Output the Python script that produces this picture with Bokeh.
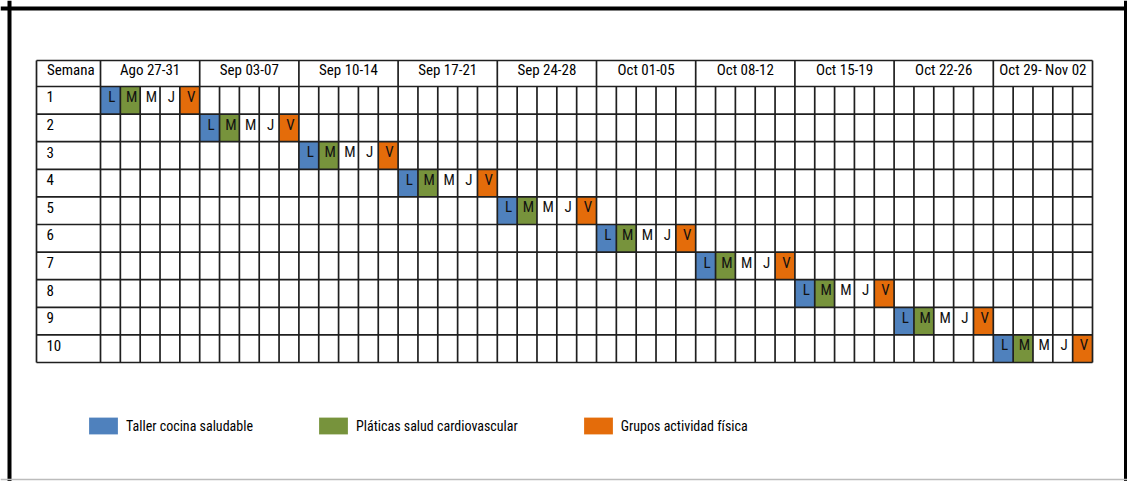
from bokeh.plotting import figure
from bokeh.models import Range1d, Legend, LegendItem, ColumnDataSource, Span
from bokeh.core.properties import value
from bokeh.embed import file_html
from bokeh.resources import INLINE

# ---------------- data ----------------
semanas = ["1", "2", "3", "4", "5", "6", "7", "8", "9", "10"]
week_labels = ["Ago 27-31", "Sep 03-07", "Sep 10-14", "Sep 17-21", "Sep 24-28",
               "Oct 01-05", "Oct 08-12", "Oct 15-19", "Oct 22-26", "Oct 29- Nov 02"]
day_letters = ["L", "M", "M", "J", "V"]
semana_week = [0, 1, 2, 3, 4, 5, 6, 7, 8, 9]          # calendar week of each semana
activities = ["Taller cocina saludable", "Pláticas salud cardiovascular", "Grupos actividad física"]
activity_day = [0, 1, 4]                               # day (L, M, V) of each activity
activity_colors = ["#4F81BD", "#77933C", "#E46C0A"]

FONT = "'Liberation Sans Narrow', 'Arial Narrow', 'Roboto Condensed', 'Liberation Sans', sans-serif"

# ---------------- layout ----------------
W, H = 1127, 481
n_days = len(week_labels) * len(day_letters)
n_rows = len(semanas)
px_day = 992 / n_days
px_row = 27.6
origin_cx, origin_cy = 100, 86
x_start = -origin_cx / px_day
x_end = x_start + W / px_day
y_top = -origin_cy / px_row
y_bot = y_top + H / px_row
header_h = 26 / px_row
label_w = 64 / px_day

p = figure(width=W, height=H, x_range=Range1d(x_start, x_end), y_range=Range1d(y_bot, y_top),
           output_backend="svg", toolbar_location=None, min_border=0,
           x_axis_type=None, y_axis_type=None)
p.grid.visible = False
p.outline_line_color = None
p.background_fill_color = "white"
p.border_fill_color = "white"

# coloured cells
renderers = []
for a, name in enumerate(activities):
    lefts, rights, tops, bottoms = [], [], [], []
    for r, w in enumerate(semana_week):
        d = w * len(day_letters) + activity_day[a]
        lefts.append(d); rights.append(d + 1); tops.append(r); bottoms.append(r + 1)
    src = ColumnDataSource(dict(left=lefts, right=rights, top=tops, bottom=bottoms))
    rr = p.quad(left="left", right="right", top="top", bottom="bottom", source=src,
                fill_color=activity_colors[a], line_color=None)
    renderers.append(rr)

# grid lines
xs0, ys0, xs1, ys1 = [], [], [], []
for d in range(n_days + 1):
    is_week = d % len(day_letters) == 0
    xs0.append(d); xs1.append(d)
    ys0.append(-header_h if is_week else 0); ys1.append(n_rows)
xs0.append(-label_w); xs1.append(-label_w); ys0.append(-header_h); ys1.append(n_rows)
for r in range(n_rows + 1):
    xs0.append(-label_w); xs1.append(n_days); ys0.append(r); ys1.append(r)
xs0.append(-label_w); xs1.append(n_days); ys0.append(-header_h); ys1.append(-header_h)
p.segment(x0=xs0, y0=ys0, x1=xs1, y1=ys1, line_color="#1f1f1f", line_width=1.7)

# header texts
hx = [w * len(day_letters) + len(day_letters) / 2 for w in range(len(week_labels))]
p.text(x=hx, y=[-0.6] * len(hx), text=week_labels, text_font=value(FONT),
       text_font_size="15px", text_align="center", text_baseline="alphabetic", text_color="black")
p.text(x=[-label_w + 0.53], y=[-0.6], text=["Semana"], text_font=value(FONT),
       text_font_size="15px", text_align="left", text_baseline="alphabetic", text_color="black")

# row numbers
p.text(x=[-label_w + 0.5] * n_rows, y=[r + 0.38 for r in range(n_rows)], text=semanas,
       text_font=value(FONT), text_font_size="15px", text_align="left",
       text_baseline="alphabetic", text_color="black")

# day letters
lx, ly, lt = [], [], []
for r, w in enumerate(semana_week):
    for i, letter in enumerate(day_letters):
        lx.append(w * len(day_letters) + i + 0.57); ly.append(r + 0.38); lt.append(letter)
p.text(x=lx, y=ly, text=lt, text_font=value(FONT), text_font_size="15px",
       text_align="center", text_baseline="alphabetic", text_color="#111111")

# page frame
p.add_layout(Span(location=x_start + 9 / px_day, dimension="height", line_color="black", line_width=4))
p.add_layout(Span(location=y_top + 8 / px_row, dimension="width", line_color="black", line_width=4))
p.add_layout(Span(location=x_start + 1125 / px_day, dimension="height", line_color="black", line_width=3))
p.add_layout(Span(location=y_top + 479 / px_row, dimension="width", line_color="#bcbcbc", line_width=1.5))

# legend
legend = Legend(items=[LegendItem(label=activities[a], renderers=[renderers[a]]) for a in range(len(activities))],
                orientation="horizontal", location=(85, 45), glyph_width=36, glyph_height=21,
                label_height=21, label_standoff=5, spacing=62, padding=0, margin=0,
                border_line_alpha=0, background_fill_alpha=0,
                label_text_font=FONT, label_text_font_size="14px", label_text_color="black")
p.add_layout(legend, "center")

open("out.html", "w").write(file_html(p, INLINE))
